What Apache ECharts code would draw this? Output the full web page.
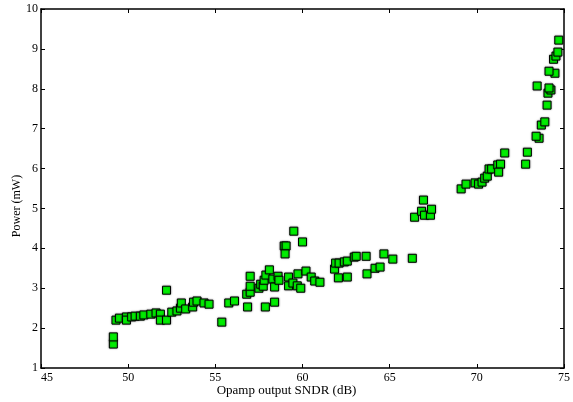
<!DOCTYPE html>
<html><head><meta charset="utf-8">
<script src="https://cdn.jsdelivr.net/npm/echarts@6/dist/echarts.min.js"></script>
<style>html,body{margin:0;padding:0;background:#fff}#c{width:573px;height:402px}</style>
</head><body><div id="c"></div>
<script>
var xTicks = [45, 50, 55, 60, 65, 70, 75];
var yTicks = [1, 2, 3, 4, 5, 6, 7, 8, 9, 10];
var sndr = [
  49.15, 49.15, 49.3, 49.5, 49.9, 49.9, 50.2, 50.4, 50.7, 50.9, 51.3, 51.6, 51.85, 51.85, 52.2, 52.2,
  52.5, 52.8, 53.0, 53.05, 53.3, 53.7, 53.75, 53.95, 54.35, 54.64, 55.37, 55.77, 56.1,
  56.85, 56.8, 57.0, 57.0, 57.0, 57.5, 57.6, 57.75, 57.8, 57.9, 58.1, 57.87, 58.4, 58.3, 58.4,
  58.6, 58.65, 58.95, 59.06, 59.0, 59.5, 60.0, 59.2, 59.2, 59.45, 59.7, 59.74, 59.9, 60.2,
  60.5, 60.7, 61.0, 61.84, 61.9, 62.1, 62.4, 62.57, 62.97, 63.08, 63.65, 64.67, 65.18,
  62.06, 62.57, 63.7, 64.16, 64.45, 66.3,
  66.43, 66.83, 66.94, 67.0, 67.34, 67.4,
  69.1, 69.38, 69.9, 70.1, 70.3, 70.45, 70.6, 70.7, 70.85, 71.2, 71.36, 71.25, 71.6,
  72.8, 72.9, 73.57, 73.4,
  73.7, 73.9, 74.03, 74.08, 74.25, 74.14, 73.46, 74.48, 74.14, 74.4, 74.54, 74.65, 74.7
];
var power = [
  1.6, 1.78, 2.2, 2.25, 2.28, 2.2, 2.28, 2.3, 2.3, 2.33, 2.35, 2.38, 2.35, 2.2, 2.2, 2.95,
  2.4, 2.43, 2.5, 2.63, 2.48, 2.53, 2.65, 2.68, 2.63, 2.6, 2.15, 2.63, 2.68,
  2.53, 2.85, 2.9, 3.05, 3.3, 3.0, 3.1, 3.05, 3.2, 3.33, 3.46, 2.53, 2.65, 3.23, 3.03,
  3.3, 3.2, 4.06, 4.06, 3.86, 4.43, 4.16, 3.28, 3.06, 3.13, 3.06, 3.36, 3.0, 3.43,
  3.28, 3.18, 3.15, 3.48, 3.63, 3.63, 3.66, 3.68, 3.78, 3.8, 3.8, 3.86, 3.73,
  3.26, 3.28, 3.36, 3.5, 3.53, 3.75,
  4.78, 4.93, 5.21, 4.83, 4.83, 4.98,
  5.49, 5.61, 5.64, 5.61, 5.66, 5.76, 5.81, 5.99, 5.99, 6.09, 6.11, 5.91, 6.39,
  6.11, 6.41, 6.76, 6.81,
  7.09, 7.17, 7.59, 7.89, 7.97, 8.02, 8.07, 8.39, 8.44, 8.74, 8.82, 8.92, 9.22
];
var points = sndr.map(function (x, i) { return [x, power[i]]; });

var font = '"Liberation Serif", "DejaVu Serif", serif';
var chart = echarts.init(document.getElementById('c'));
var lineStyle = { color: '#000', width: 1.5 };
chart.setOption({
  animation: false,
  backgroundColor: '#fff',
  grid: { left: 41, top: 9, right: 3, bottom: 34, containLabel: false },
  xAxis: [{
    type: 'value', min: xTicks[0], max: xTicks[xTicks.length - 1], interval: 5,
    position: 'bottom',
    axisLine: { show: true, onZero: false, lineStyle: lineStyle },
    axisTick: { show: true, inside: true, length: 4, lineStyle: { color: '#000' } },
    axisLabel: { show: true, margin: 4, color: '#000', fontFamily: font, fontSize: 12, alignMinLabel: 'left' },
    splitLine: { show: false }
  }, {
    type: 'value', min: xTicks[0], max: xTicks[xTicks.length - 1], interval: 5,
    position: 'top',
    axisLine: { show: true, onZero: false, lineStyle: lineStyle },
    axisTick: { show: true, inside: true, length: 4, lineStyle: { color: '#000' } },
    axisLabel: { show: false },
    splitLine: { show: false }
  }],
  yAxis: [{
    type: 'value', min: yTicks[0], max: yTicks[yTicks.length - 1], interval: 1,
    position: 'left',
    axisLine: { show: true, onZero: false, lineStyle: lineStyle },
    axisTick: { show: true, inside: true, length: 4, lineStyle: { color: '#000' } },
    axisLabel: { show: true, margin: 3, color: '#000', fontFamily: font, fontSize: 12 },
    splitLine: { show: false }
  }, {
    type: 'value', min: yTicks[0], max: yTicks[yTicks.length - 1], interval: 1,
    position: 'right',
    axisLine: { show: true, onZero: false, lineStyle: lineStyle },
    axisTick: { show: true, inside: true, length: 4, lineStyle: { color: '#000' } },
    axisLabel: { show: false },
    splitLine: { show: false }
  }],
  graphic: [{
    type: 'text', left: 'center', top: 384,
    style: { text: 'Opamp output SNDR (dB)', fill: '#000', font: '13px ' + font }
  }, {
    type: 'text', x: 11, y: 206, rotation: Math.PI / 2,
    style: { text: 'Power (mW)', fill: '#000', font: '12px ' + font, align: 'center', verticalAlign: 'top' }
  }],
  series: [{
    type: 'scatter',
    xAxisIndex: 0, yAxisIndex: 0,
    data: points,
    symbol: 'rect',
    symbolSize: 8,
    itemStyle: { color: '#00ee00', borderColor: '#000', borderWidth: 1, opacity: 1,
      shadowColor: 'rgba(0,0,0,0.35)', shadowBlur: 2 }
  }]
});
</script></body></html>
